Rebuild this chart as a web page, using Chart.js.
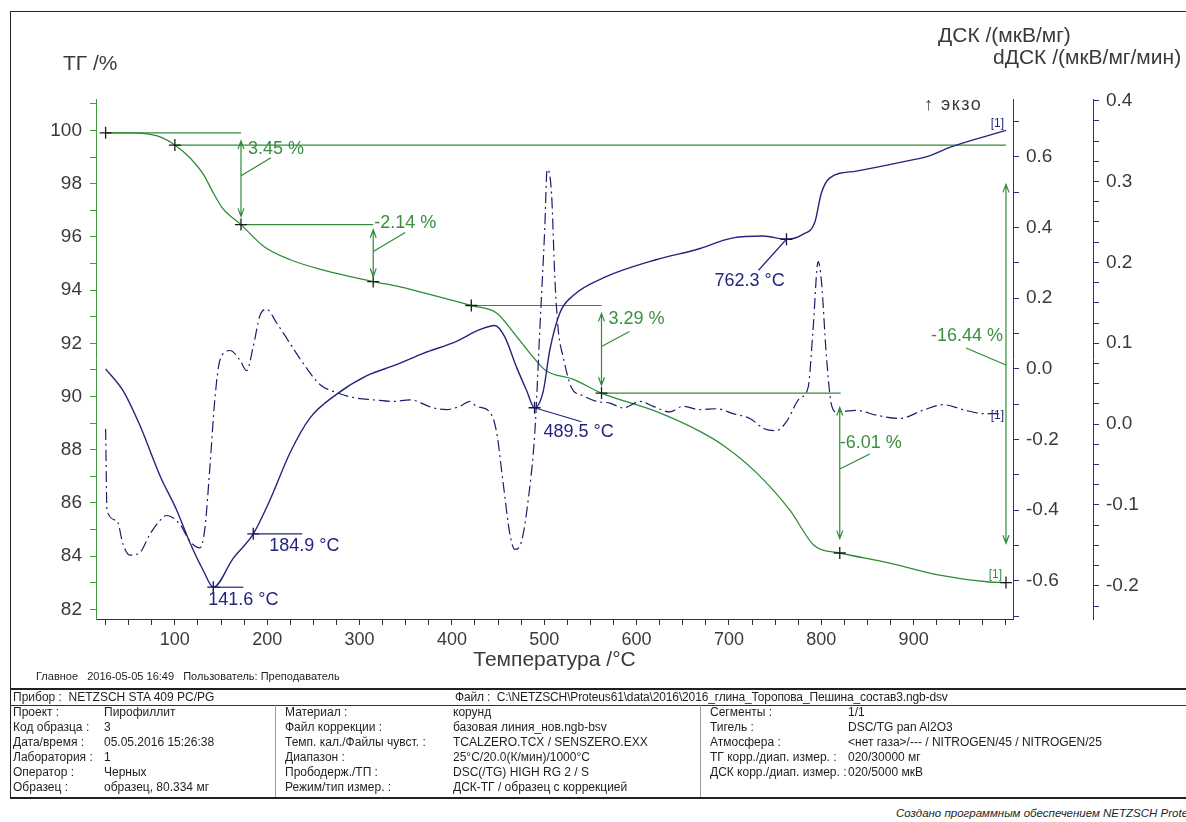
<!DOCTYPE html>
<html lang="ru">
<head>
<meta charset="utf-8">
<title>ТГ / ДСК — Пирофиллит</title>
<script src="https://cdn.jsdelivr.net/npm/chart.js@4.4.1/dist/chart.umd.min.js"></script>
<style>
html,body{margin:0;padding:0;background:#fff;}
body{position:relative;width:1186px;height:822px;overflow:hidden;font-family:"Liberation Sans",Arial,sans-serif;color:#333;}
#plot{position:absolute;left:0;top:0;width:1186px;height:690px;}
.t{position:absolute;white-space:nowrap;line-height:1;color:#3a3a3a;}
.hl{position:absolute;height:0;border-top:1px solid #333;}
.vl{position:absolute;width:0;border-left:1px solid #333;}
.c{position:absolute;white-space:nowrap;font-size:12px;line-height:14px;color:#1e1e1e;}
</style>
</head>
<body>
<div id="plot"><canvas id="c"></canvas></div>

<!-- frame -->
<div class="hl" style="left:10px;top:11px;width:1176px;border-top-color:#222;"></div>
<div class="vl" style="left:10px;top:11px;height:786px;border-left-color:#222;"></div>

<!-- axis headings -->
<div class="t" style="left:63px;top:52px;font-size:21px;">ТГ /%</div>
<div class="t" style="left:938px;top:24px;font-size:21px;">ДСК /(мкВ/мг)</div>
<div class="t" style="left:993px;top:46px;font-size:21px;">dДСК /(мкВ/мг/мин)</div>
<div class="t" style="left:924px;top:95px;font-size:18px;letter-spacing:1.5px;">↑ экзо</div>

<!-- footer of the plot -->
<div class="c" style="left:36px;top:669px;font-size:11px;">Главное&nbsp;&nbsp;&nbsp;2016-05-05 16:49&nbsp;&nbsp;&nbsp;Пользователь: Преподаватель</div>

<!-- measurement table -->
<div class="hl" style="left:10px;top:688px;width:1176px;border-top:2px solid #222;"></div>
<div class="c" style="left:13px;top:690px;">Прибор :&nbsp; NETZSCH STA 409 PC/PG</div>
<div class="c" style="left:455px;top:690px;letter-spacing:-0.15px;">Файл :&nbsp; C:\NETZSCH\Proteus61\data\2016\2016_глина_Торопова_Пешина_состав3.ngb-dsv</div>
<div class="hl" style="left:10px;top:705px;width:1176px;"></div>
<div class="vl" style="left:275px;top:705px;height:92px;border-left-color:#999;"></div>
<div class="vl" style="left:700px;top:705px;height:92px;border-left-color:#999;"></div>

<div class="c" style="left:13px;top:705px;">Проект :</div>
<div class="c" style="left:13px;top:720px;">Код образца :</div>
<div class="c" style="left:13px;top:735px;">Дата/время :</div>
<div class="c" style="left:13px;top:750px;">Лаборатория :</div>
<div class="c" style="left:13px;top:765px;">Оператор :</div>
<div class="c" style="left:13px;top:780px;">Образец :</div>
<div class="c" style="left:104px;top:705px;">Пирофиллит</div>
<div class="c" style="left:104px;top:720px;">3</div>
<div class="c" style="left:104px;top:735px;">05.05.2016 15:26:38</div>
<div class="c" style="left:104px;top:750px;">1</div>
<div class="c" style="left:104px;top:765px;">Черных</div>
<div class="c" style="left:104px;top:780px;">образец, 80.334 мг</div>

<div class="c" style="left:285px;top:705px;">Материал :</div>
<div class="c" style="left:285px;top:720px;">Файл коррекции :</div>
<div class="c" style="left:285px;top:735px;">Темп. кал./Файлы чувст. :</div>
<div class="c" style="left:285px;top:750px;">Диапазон :</div>
<div class="c" style="left:285px;top:765px;">Прободерж./ТП :</div>
<div class="c" style="left:285px;top:780px;">Режим/тип измер. :</div>
<div class="c" style="left:453px;top:705px;">корунд</div>
<div class="c" style="left:453px;top:720px;">базовая линия_нов.ngb-bsv</div>
<div class="c" style="left:453px;top:735px;">TCALZERO.TCX / SENSZERO.EXX</div>
<div class="c" style="left:453px;top:750px;">25°C/20.0(К/мин)/1000°C</div>
<div class="c" style="left:453px;top:765px;">DSC(/TG) HIGH RG 2 / S</div>
<div class="c" style="left:453px;top:780px;">ДСК-ТГ / образец с коррекцией</div>

<div class="c" style="left:710px;top:705px;">Сегменты :</div>
<div class="c" style="left:710px;top:720px;">Тигель :</div>
<div class="c" style="left:710px;top:735px;">Атмосфера :</div>
<div class="c" style="left:710px;top:750px;">ТГ корр./диап. измер. :</div>
<div class="c" style="left:710px;top:765px;">ДСК корр./диап. измер. :</div>
<div class="c" style="left:848px;top:705px;">1/1</div>
<div class="c" style="left:848px;top:720px;">DSC/TG pan Al2O3</div>
<div class="c" style="left:848px;top:735px;">&lt;нет газа&gt;/--- / NITROGEN/45 / NITROGEN/25</div>
<div class="c" style="left:848px;top:750px;">020/30000 мг</div>
<div class="c" style="left:848px;top:765px;">020/5000 мкВ</div>
<div class="hl" style="left:10px;top:797px;width:1176px;border-top:2px solid #222;"></div>

<div class="c" style="left:896px;top:806px;font-size:11.5px;font-style:italic;">Создано программным обеспечением NETZSCH Proteus</div>

<script>
// ---- TG: mass (%) vs temperature (°C)
const tgTemp = [25, 50, 65, 80, 90, 100, 116, 131, 142, 152, 171.6, 196, 225, 261, 314.8, 344, 380, 421, 448, 470, 488, 502, 531, 562, 621, 668, 694, 730, 766, 793, 820, 874, 928, 982, 1000];
const tgMass = [99.91, 99.91, 99.89, 99.8, 99.66, 99.45, 98.98, 98.34, 97.63, 97.06, 96.46, 95.65, 95.14, 94.75, 94.32, 94.12, 93.8, 93.42, 93.15, 92.26, 91.48, 90.97, 90.65, 90.13, 89.44, 88.7, 88.16, 87.13, 85.73, 84.38, 84.12, 83.74, 83.29, 83.03, 83.01];

// ---- DSC: heat flow (мкВ/мг), exo up
const dscTemp = [25, 44, 62, 84, 102, 116, 131, 141.6, 163, 184.9, 203, 225, 246, 275, 308, 340, 369, 405, 430, 446.5, 457, 470, 481, 489.5, 499, 506, 517, 531, 567, 621, 665, 704.5, 737, 762.3, 780, 793, 800, 809, 838, 892, 917, 939, 1000];
const dscSignal = [0.0, -0.062, -0.159, -0.303, -0.40, -0.49, -0.572, -0.618, -0.537, -0.467, -0.371, -0.236, -0.14, -0.072, -0.019, 0.012, 0.044, 0.078, 0.111, 0.123, 0.092, 0.005, -0.062, -0.110, -0.062, 0.053, 0.159, 0.207, 0.261, 0.309, 0.338, 0.371, 0.376, 0.367, 0.381, 0.415, 0.497, 0.540, 0.560, 0.588, 0.603, 0.627, 0.675];

// ---- dDSC: derivative of the DSC signal (мкВ/мг/мин)
const ddscTemp = [25, 26.5, 37, 44, 51, 62, 73, 84, 91, 105.5, 116.4, 127.2, 132.6, 138, 143.4, 148.8, 159.7, 170.5, 177.7, 184.9, 192.1, 199.4, 210.2, 224.6, 239, 257, 275, 297, 315, 336, 354.5, 380, 394, 408.6, 419.5, 426.7, 441, 448.4, 455.5, 462.8, 468.2, 475.4, 482.6, 489.8, 495.2, 500.6, 503.1, 507.9, 511.5, 515.1, 520.5, 529.5, 542, 556.6, 571, 585.4, 603.5, 618, 636, 650, 668, 686.5, 704.5, 722.6, 738.8, 751.5, 762.3, 776.7, 785.7, 791.1, 796.6, 800.2, 805.6, 811, 816.4, 838, 859.7, 885, 910, 932, 953, 975, 997];
const ddscSignal = [-0.006, -0.107, -0.119, -0.149, -0.162, -0.159, -0.136, -0.119, -0.113, -0.124, -0.145, -0.153, -0.128, -0.052, 0.032, 0.079, 0.091, 0.079, 0.066, 0.096, 0.134, 0.142, 0.125, 0.100, 0.075, 0.049, 0.039, 0.032, 0.030, 0.028, 0.030, 0.020, 0.018, 0.022, 0.028, 0.022, 0.015, -0.010, -0.073, -0.136, -0.155, -0.145, -0.094, -0.010, 0.117, 0.243, 0.315, 0.285, 0.180, 0.117, 0.083, 0.045, 0.035, 0.028, 0.026, 0.020, 0.028, 0.022, 0.015, 0.022, 0.018, 0.019, 0.013, 0.007, -0.006, -0.008, 0.003, 0.032, 0.045, 0.117, 0.201, 0.176, 0.083, 0.024, 0.015, 0.017, 0.011, 0.007, 0.017, 0.024, 0.018, 0.013, 0.013];

// ---- mass-change evaluation (TG)
const levelFromT = [25, 100, 171.6, 421, 562];
const levelToT   = [171.6, 1000, 314.8, 562, 821];
const levelMass  = [99.91, 99.45, 96.46, 93.42, 90.13];
const stepTemp  = [171.6, 314.8, 562, 820, 1000];
const stepStart = [99.91, 96.46, 93.42, 90.13, 99.45];
const stepLoss  = [3.45, 2.14, 3.29, 6.01, 16.44];
const stepSigned = [false, true, false, true, true];
const tgMarkT = [25, 100, 171.6, 314.8, 421, 562, 820, 1000];
const tgMarkM = [99.91, 99.45, 96.46, 94.32, 93.42, 90.13, 84.12, 83.01];

// ---- DSC peak evaluation
const peakTemp = [141.6, 184.9, 489.5, 762.3];
const peakSignal = [-0.618, -0.467, -0.110, 0.367];

// ---- tick labels
const tempLabels = [100, 200, 300, 400, 500, 600, 700, 800, 900];
const tgLabels = [82, 84, 86, 88, 90, 92, 94, 96, 98, 100];
const dscLabels = [-0.6, -0.4, -0.2, 0.0, 0.2, 0.4, 0.6];
const ddscLabels = [-0.2, -0.1, 0.0, 0.1, 0.2, 0.3, 0.4];

const GREEN = '#2f8c36';
const GREEN_TXT = '#3a8f3f';
const NAVY = '#24247e';
const INK = '#3a3a3a';
const FONT = '"Liberation Sans", Arial, sans-serif';

const pts = (xs, ys) => xs.map((v, i) => ({x: v, y: ys[i]}));
const near = (a, list) => list.some(v => Math.abs(v - a) < 1e-6);

function stepTicks(step) {
  return function (scale) {
    const out = [];
    const start = Math.ceil(scale.min / step - 1e-9);
    const end = Math.floor(scale.max / step + 1e-9);
    for (let k = start; k <= end; k++) out.push({value: Math.round(k * step * 1e6) / 1e6});
    scale.ticks = out;
  };
}

function axisGrid(color) {
  return {drawOnChartArea: false, drawTicks: true, tickLength: 6, color: color, lineWidth: 1};
}

const levelSets = levelMass.map((m, i) => ({
  type: 'line', yAxisID: 'yTG', data: pts([levelFromT[i], levelToT[i]], [m, m]),
  borderColor: GREEN, borderWidth: 1.2, pointRadius: 0, order: 5
}));

// labels placed around each evaluation (pixel offsets from the arrow top / marker)
const stepLayout = [
  {tx: 7, ty: 16, align: 'left', l: [0, 43, 30, 25]},
  {tx: 1, ty: -2, align: 'left', l: [0, 27, 32, 8]},
  {tx: 7, ty: 14, align: 'left', l: [0, 41, 28, 26]},
  {tx: 0, ty: 50, align: 'left', l: [0, 76, 30, 61]},
  {tx: -3, ty: 191, align: 'right', l: [-40, 203, 0, 220]}
];
const peakLayout = [
  {tx: -5, ty: 13, l: [30, 0]},
  {tx: 16, ty: 12, l: [49, 0]},
  {tx: 9, ty: 24, l: [47, 14]},
  {tx: -72, ty: 42, l: [-28, 31]}
];

const markLayer = {
  id: 'markLayer',
  afterDatasetsDraw(chart) {
    const {ctx} = chart;
    const {x, yTG, yDSC, yD} = chart.scales;
    ctx.save();
    ctx.textBaseline = 'middle';
    ctx.font = '18px ' + FONT;

    // mass-change arrows with values
    stepTemp.forEach((t, i) => {
      const px = x.getPixelForValue(t);
      const yA = yTG.getPixelForValue(stepStart[i]);
      const yB = yTG.getPixelForValue(stepStart[i] - stepLoss[i]);
      const inset = (yB - yA) * 0.09;
      const top = yA + inset, bot = yB - inset;
      ctx.strokeStyle = GREEN; ctx.lineWidth = 1.2;
      ctx.beginPath();
      ctx.moveTo(px, top); ctx.lineTo(px, bot);
      ctx.moveTo(px - 3, top + 8); ctx.lineTo(px, top); ctx.lineTo(px + 3, top + 8);
      ctx.moveTo(px - 3, bot - 8); ctx.lineTo(px, bot); ctx.lineTo(px + 3, bot - 8);
      const L = stepLayout[i];
      ctx.moveTo(px + L.l[0], yA + L.l[1]); ctx.lineTo(px + L.l[2], yA + L.l[3]);
      ctx.stroke();
      ctx.fillStyle = GREEN_TXT;
      ctx.textAlign = L.align;
      ctx.fillText((stepSigned[i] ? '-' : '') + stepLoss[i].toFixed(2) + ' %', px + L.tx, yA + L.ty);
    });

    // DSC peak temperatures
    peakTemp.forEach((t, i) => {
      const px = x.getPixelForValue(t);
      const py = yDSC.getPixelForValue(peakSignal[i]);
      const L = peakLayout[i];
      ctx.strokeStyle = NAVY; ctx.lineWidth = 1.2;
      ctx.beginPath(); ctx.moveTo(px, py); ctx.lineTo(px + L.l[0], py + L.l[1]); ctx.stroke();
      ctx.fillStyle = NAVY; ctx.textAlign = 'left';
      ctx.fillText(t.toFixed(1) + ' °C', px + L.tx, py + L.ty);
    });

    // segment tags at the curve ends
    ctx.font = '12px ' + FONT; ctx.textAlign = 'right';
    const xe = x.getPixelForValue(1000);
    ctx.fillStyle = NAVY;
    ctx.fillText('[1]', xe - 2, yDSC.getPixelForValue(dscSignal[dscSignal.length - 1]) - 7);
    ctx.fillText('[1]', xe - 2, yD.getPixelForValue(ddscSignal[ddscSignal.length - 1]) + 2);
    ctx.fillStyle = GREEN_TXT;
    ctx.fillText('[1]', xe - 4, yTG.getPixelForValue(tgMass[tgMass.length - 1]) - 8);
    ctx.restore();
  }
};

new Chart(document.getElementById('c'), {
  type: 'line',
  data: {
    datasets: [
      {label: 'ТГ', yAxisID: 'yTG', data: pts(tgTemp, tgMass), borderColor: GREEN, borderWidth: 1.3,
       pointRadius: 0, cubicInterpolationMode: 'monotone', order: 3},
      {label: 'ДСК', yAxisID: 'yDSC', data: pts(dscTemp, dscSignal), borderColor: NAVY, borderWidth: 1.4,
       pointRadius: 0, cubicInterpolationMode: 'monotone', order: 2},
      {label: 'dДСК', yAxisID: 'yD', data: pts(ddscTemp, ddscSignal), borderColor: '#1e1e68', borderWidth: 1.2,
       borderDash: [11, 4, 2, 4], pointRadius: 0, cubicInterpolationMode: 'monotone', order: 1},
      ...levelSets,
      {label: 'ТГ точки', type: 'scatter', yAxisID: 'yTG', data: pts(tgMarkT, tgMarkM), showLine: false,
       pointStyle: 'cross', pointRadius: 6, borderColor: '#1b1b1b', pointBorderWidth: 1.3, order: 0},
      {label: 'ДСК точки', type: 'scatter', yAxisID: 'yDSC', data: pts(peakTemp, peakSignal), showLine: false,
       pointStyle: 'cross', pointRadius: 6, borderColor: '#15154a', pointBorderWidth: 1.3, order: 0}
    ]
  },
  options: {
    responsive: true, maintainAspectRatio: false, animation: false, devicePixelRatio: 1,
    events: [],
    layout: {padding: {left: 10, right: 23, top: 99, bottom: 17}},
    plugins: {legend: {display: false}, tooltip: {enabled: false}},
    scales: {
      x: {
        type: 'linear', position: 'bottom', min: 14.6, max: 1007.6,
        afterBuildTicks: stepTicks(25),
        afterFit: s => { s.height = 54; },
        grid: axisGrid('#333'),
        border: {display: true, color: '#333', width: 1},
        ticks: {maxRotation: 0, autoSkip: false, padding: 4, color: INK, font: {family: FONT, size: 18},
                callback: v => near(v, tempLabels) ? String(v) : ''},
        title: {display: true, text: 'Температура /°C', color: INK, font: {family: FONT, size: 21}, padding: 0}
      },
      yTG: {
        type: 'linear', position: 'left', min: 81.64, max: 101.18,
        afterBuildTicks: stepTicks(1),
        afterFit: s => { s.width = 86; },
        grid: axisGrid('#4a9a4a'),
        border: {display: true, color: '#3d9a3d', width: 1},
        ticks: {autoSkip: false, padding: 8, color: INK, font: {family: FONT, size: 19},
                callback: v => near(v, tgLabels) ? String(v) : ''}
      },
      yDSC: {
        type: 'linear', position: 'right', weight: 0, min: -0.708, max: 0.764,
        afterBuildTicks: stepTicks(0.1),
        afterFit: s => { s.width = 80; },
        grid: axisGrid('#2e2e7a'),
        border: {display: true, color: '#2e2e7a', width: 1},
        ticks: {autoSkip: false, padding: 7, color: INK, font: {family: FONT, size: 19},
                callback: v => near(v, dscLabels) ? v.toFixed(1) : ''}
      },
      yD: {
        type: 'linear', position: 'right', weight: 1, min: -0.241, max: 0.402,
        afterBuildTicks: stepTicks(0.025),
        afterFit: s => { s.width = 70; },
        grid: axisGrid('#2e2e7a'),
        border: {display: true, color: '#2e2e7a', width: 1},
        ticks: {autoSkip: false, padding: 7, color: INK, font: {family: FONT, size: 19},
                callback: v => near(v, ddscLabels) ? v.toFixed(1) : ''}
      }
    }
  },
  plugins: [markLayer]
});
</script>
</body>
</html>
